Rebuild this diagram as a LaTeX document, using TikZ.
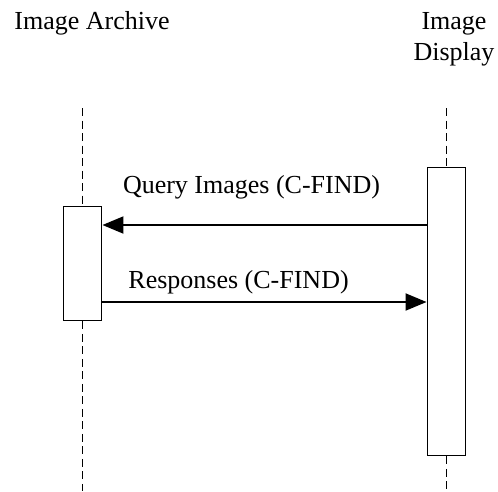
\documentclass[tikz,border=0pt]{standalone}
\usepackage{fontspec}
\setmainfont{Liberation Serif}
\usetikzlibrary{arrows.meta,positioning}

\begin{document}
\begin{tikzpicture}[
    x = 1pt, y = -1pt, % pixel units, y runs down
    > = {Triangle[length=21pt, width=17pt]}, % filled arrow head
    line width = 1.9pt, % line style
    font = \fontsize{26}{31}\selectfont
  ]

  \tikzset{
    actor/.style = {align=center, inner sep=0pt, anchor=base},
    lifeline/.style = {dash pattern=on 8pt off 4.5pt},
    activation/.style = {draw, fill=white, minimum width=38pt, inner sep=0pt},
    message/.style = {->},
    msglabel/.style = {inner sep=0pt, anchor=base}
  }

  \useasboundingbox (0,0) rectangle (498,491);

  % actors
  \node[actor] (archive) at (92,29) {Image Archive};
  \node[actor] (display) at (454,60) {Image\\Display};

  % activation boxes
  \node[activation, minimum height=114pt] (archbox) at (82.5,263.5) {};
  \node[activation, minimum height=288pt] (dispbox) at (446.5,311.5) {};

  % lifelines
  \coordinate (archtop) at (82.5,108);
  \coordinate (archbot) at (82.5,491);
  \coordinate (disptop) at (446.5,108);
  \coordinate (dispbot) at (446.5,491);
  \draw[lifeline] (archtop) -- (archbox.north);
  \draw[lifeline] (archbox.south) -- (archbot);
  \draw[lifeline] (disptop) -- (dispbox.north);
  \draw[lifeline] (dispbox.south) -- (dispbot);

  % messages
  \coordinate (query) at (0,225);
  \coordinate (resp) at (0,302);
  \draw[message] (dispbox.west |- query) -- (archbox.east |- query)
    node[msglabel, pos=0.54, yshift=32pt] (querytext) {Query Images (C-FIND)};
  \draw[message] (archbox.east |- resp) -- (dispbox.west |- resp)
    node[msglabel, pos=0.42, yshift=14pt] (resptext) {Responses (C-FIND)};
\end{tikzpicture}
\end{document}
